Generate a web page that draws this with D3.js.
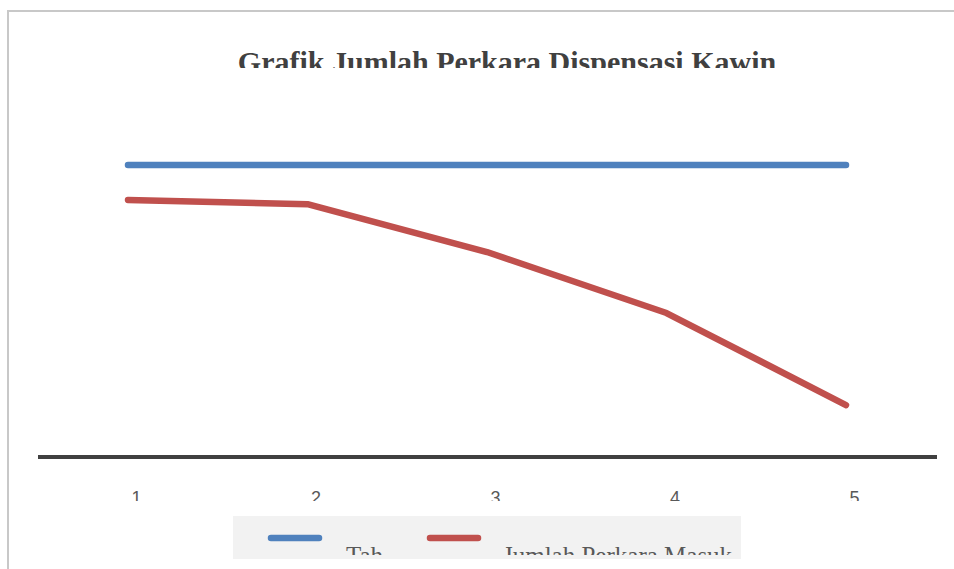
<!DOCTYPE html>
<html><head><meta charset="utf-8">
<script src="https://cdn.jsdelivr.net/npm/d3@7"></script>
<style>html,body{margin:0;padding:0;background:#fff;overflow:hidden}</style>
</head><body>
<svg id="c" width="954" height="569"></svg>
<script>
const categories = [1, 2, 3, 4, 5];
const tahun = [100, 100, 100, 100, 100];
const perkaraMasuk = [88.0, 86.6, 70.2, 49.3, 17.8];
const title = "Grafik Jumlah Perkara Dispensasi Kawin";
const seriesNames = ["Tahun", "Jumlah Perkara Masuk"];
const colors = ["#4f81bd", "#c0504d"];

const svg = d3.select("#c");
const defs = svg.append("defs");
defs.append("clipPath").attr("id","clipTitle").append("rect").attr("x",0).attr("y",0).attr("width",954).attr("height",68);
defs.append("clipPath").attr("id","clipTicks").append("rect").attr("x",0).attr("y",460).attr("width",954).attr("height",41);
defs.append("clipPath").attr("id","clipLeg0").append("rect").attr("x",340).attr("y",516).attr("width",42).attr("height",39);
defs.append("clipPath").attr("id","clipLeg1").append("rect").attr("x",495).attr("y",516).attr("width",241).attr("height",39);

// frame
svg.append("rect").attr("x",8).attr("y",11).attr("width",960).attr("height",600)
  .attr("fill","#fff").attr("stroke","#c8c8c8").attr("stroke-width",2);

const x = d3.scalePoint().domain(categories).range([128, 846]);
const y = d3.scaleLinear().domain([0, 100]).range([457, 165]);

// title
svg.append("g").attr("clip-path","url(#clipTitle)").append("text")
  .attr("x",507).attr("y",72).attr("text-anchor","middle")
  .attr("font-family","Liberation Serif, serif").attr("font-weight","bold")
  .attr("font-size",30).attr("fill","#404040").text(title);

// x axis
const xAxis = d3.axisBottom(x).tickSize(0).tickPadding(0);
const wrap = svg.append("g").attr("clip-path","url(#clipTicks)");
const gx = wrap.append("g").attr("transform","translate(0,457)").call(xAxis);
gx.select(".domain").remove();
gx.selectAll("text").attr("dx",8).attr("dy",0).attr("y",47)
  .attr("font-family","Liberation Sans, Arial, sans-serif").attr("font-size",18).attr("fill","#595959");
svg.append("line").attr("x1",38).attr("x2",937).attr("y1",y(0)).attr("y2",y(0))
  .attr("stroke","#404040").attr("stroke-width",4);

const line = d3.line().x((d,i)=>x(categories[i])).y(d=>y(d));
[tahun, perkaraMasuk].forEach((s,k)=>{
  svg.append("path").datum(s).attr("d",line).attr("fill","none")
    .attr("stroke",colors[k]).attr("stroke-width",6.5)
    .attr("stroke-linecap","round").attr("stroke-linejoin","round");
});

// legend
svg.append("rect").attr("x",233).attr("y",516).attr("width",508).attr("height",43).attr("fill","#f2f2f2");
const legX = [268, 427];
const legT = [346, 503];
seriesNames.forEach((n,k)=>{
  svg.append("line").attr("x1",legX[k]+3).attr("x2",legX[k]+51).attr("y1",538).attr("y2",538)
    .attr("stroke",colors[k]).attr("stroke-width",6.5).attr("stroke-linecap","round");
  svg.append("g").attr("clip-path",`url(#clipLeg${k})`).append("text").attr("x",legT[k]).attr("y",564)
    .attr("font-family","Liberation Serif, serif").attr("font-size",25).attr("fill","#595959").text(n);
});
</script>
</body></html>
